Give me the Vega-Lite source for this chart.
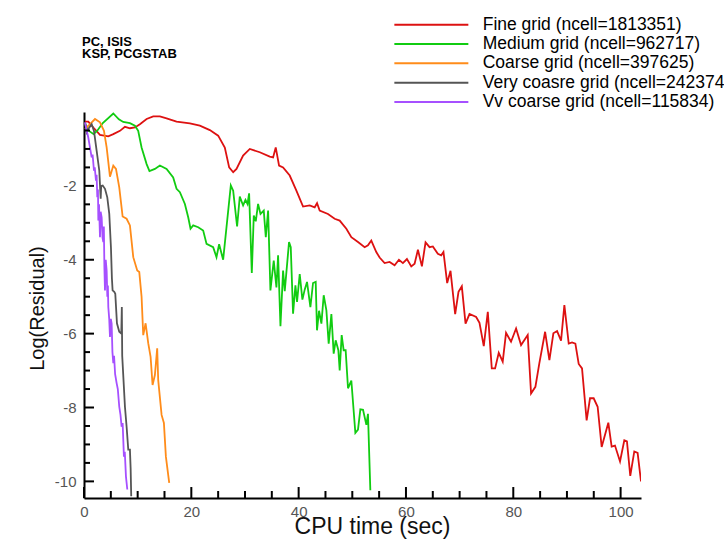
{
  "$schema": "https://vega.github.io/schema/vega-lite/v6.json",
  "width": 557,
  "height": 386,
  "autosize": "none",
  "padding": {"left": 84, "top": 112, "right": 83, "bottom": 46},
  "background": "white",
  "title": {
    "text": ["PC, ISIS", "KSP, PCGSTAB"],
    "anchor": "start",
    "frame": "group",
    "font": "Liberation Sans",
    "fontSize": 13,
    "fontWeight": "bold",
    "lineHeight": 12,
    "color": "#000",
    "offset": -45,
    "dx": -2
  },
  "config": {
    "view": {"stroke": null},
    "axis": {
      "grid": false,
      "zindex": 1,
      "domainColor": "#000",
      "domainWidth": 2,
      "tickColor": "#000",
      "tickWidth": 2,
      "labelFont": "Liberation Sans",
      "labelFontSize": 15,
      "labelColor": "#555",
      "labelFlush": false,
      "labelOverlap": false,
      "titleFont": "Liberation Sans",
      "titleFontWeight": "normal",
      "titleColor": "#111"
    }
  },
  "datasets": {
    "xmajor": [{"v": 0}, {"v": 20}, {"v": 40}, {"v": 60}, {"v": 80}, {"v": 100}],
    "xminor": [{"v": 5}, {"v": 10}, {"v": 15}, {"v": 25}, {"v": 30}, {"v": 35}, {"v": 45}, {"v": 50}, {"v": 55}, {"v": 65}, {"v": 70}, {"v": 75}, {"v": 85}, {"v": 90}, {"v": 95}],
    "ymajor": [{"v": -10}, {"v": -8}, {"v": -6}, {"v": -4}, {"v": -2}],
    "yminor": [{"v": -9.5}, {"v": -9}, {"v": -8.5}, {"v": -7.5}, {"v": -7}, {"v": -6.5}, {"v": -5.5}, {"v": -5}, {"v": -4.5}, {"v": -3.5}, {"v": -3}, {"v": -2.5}, {"v": -1.5}, {"v": -1}, {"v": -0.5}]
  },
  "data": {
    "values": [
      {"s": "F", "t": 0.19, "r": -0.26}, {"s": "F", "t": 0.8, "r": -0.26}, {"s": "F", "t": 1.74, "r": -0.42}, {"s": "F", "t": 2.98, "r": -0.62}, {"s": "F", "t": 4.52, "r": -0.66}, {"s": "F", "t": 5.46, "r": -0.6}, {"s": "F", "t": 6.7, "r": -0.51}, {"s": "F", "t": 7.63, "r": -0.4}, {"s": "F", "t": 8.56, "r": -0.44}, {"s": "F", "t": 9.49, "r": -0.42}, {"s": "F", "t": 10.42, "r": -0.33}, {"s": "F", "t": 11.67, "r": -0.19}, {"s": "F", "t": 12.9, "r": -0.12}, {"s": "F", "t": 14.14, "r": -0.12}, {"s": "F", "t": 15.39, "r": -0.17}, {"s": "F", "t": 17.25, "r": -0.26}, {"s": "F", "t": 19.73, "r": -0.31}, {"s": "F", "t": 21.59, "r": -0.37}, {"s": "F", "t": 23.45, "r": -0.49}, {"s": "F", "t": 25.0, "r": -0.64}, {"s": "F", "t": 26.24, "r": -0.96}, {"s": "F", "t": 27.05, "r": -1.5}, {"s": "F", "t": 27.8, "r": -1.63}, {"s": "F", "t": 28.42, "r": -1.54}, {"s": "F", "t": 29.65, "r": -1.18}, {"s": "F", "t": 30.9, "r": -1.0}, {"s": "F", "t": 32.76, "r": -1.09}, {"s": "F", "t": 34.62, "r": -1.21}, {"s": "F", "t": 35.24, "r": -1.23}, {"s": "F", "t": 35.73, "r": -0.96}, {"s": "F", "t": 36.35, "r": -1.45}, {"s": "F", "t": 37.1, "r": -1.5}, {"s": "F", "t": 38.34, "r": -1.72}, {"s": "F", "t": 39.58, "r": -2.13}, {"s": "F", "t": 40.82, "r": -2.56}, {"s": "F", "t": 42.06, "r": -2.53}, {"s": "F", "t": 42.99, "r": -2.58}, {"s": "F", "t": 43.43, "r": -2.47}, {"s": "F", "t": 43.92, "r": -2.67}, {"s": "F", "t": 45.47, "r": -2.76}, {"s": "F", "t": 46.71, "r": -2.89}, {"s": "F", "t": 47.65, "r": -2.94}, {"s": "F", "t": 48.89, "r": -3.16}, {"s": "F", "t": 49.82, "r": -3.39}, {"s": "F", "t": 51.06, "r": -3.52}, {"s": "F", "t": 52.3, "r": -3.66}, {"s": "F", "t": 52.92, "r": -3.61}, {"s": "F", "t": 53.54, "r": -3.48}, {"s": "F", "t": 54.47, "r": -3.79}, {"s": "F", "t": 55.09, "r": -3.94}, {"s": "F", "t": 56.02, "r": -4.09}, {"s": "F", "t": 56.95, "r": -4.06}, {"s": "F", "t": 57.88, "r": -4.15}, {"s": "F", "t": 58.69, "r": -4.0}, {"s": "F", "t": 59.43, "r": -4.09}, {"s": "F", "t": 60.18, "r": -3.98}, {"s": "F", "t": 60.99, "r": -4.18}, {"s": "F", "t": 61.61, "r": -4.11}, {"s": "F", "t": 62.23, "r": -3.73}, {"s": "F", "t": 62.97, "r": -4.18}, {"s": "F", "t": 63.65, "r": -3.53}, {"s": "F", "t": 64.4, "r": -3.66}, {"s": "F", "t": 65.01, "r": -3.64}, {"s": "F", "t": 65.94, "r": -3.84}, {"s": "F", "t": 66.57, "r": -3.88}, {"s": "F", "t": 66.99, "r": -3.79}, {"s": "F", "t": 67.68, "r": -4.63}, {"s": "F", "t": 68.3, "r": -4.3}, {"s": "F", "t": 69.17, "r": -5.47}, {"s": "F", "t": 69.79, "r": -4.87}, {"s": "F", "t": 70.41, "r": -4.72}, {"s": "F", "t": 71.1, "r": -5.73}, {"s": "F", "t": 71.84, "r": -5.47}, {"s": "F", "t": 73.08, "r": -5.55}, {"s": "F", "t": 73.7, "r": -5.71}, {"s": "F", "t": 74.5, "r": -6.34}, {"s": "F", "t": 75.25, "r": -5.41}, {"s": "F", "t": 75.99, "r": -6.94}, {"s": "F", "t": 76.61, "r": -6.94}, {"s": "F", "t": 77.29, "r": -6.52}, {"s": "F", "t": 78.03, "r": -6.76}, {"s": "F", "t": 78.65, "r": -5.98}, {"s": "F", "t": 79.58, "r": -6.22}, {"s": "F", "t": 80.52, "r": -5.86}, {"s": "F", "t": 81.45, "r": -6.31}, {"s": "F", "t": 82.69, "r": -6.04}, {"s": "F", "t": 83.31, "r": -7.62}, {"s": "F", "t": 84.12, "r": -7.44}, {"s": "F", "t": 84.86, "r": -6.8}, {"s": "F", "t": 85.93, "r": -5.95}, {"s": "F", "t": 86.73, "r": -6.72}, {"s": "F", "t": 87.47, "r": -5.99}, {"s": "F", "t": 88.16, "r": -5.93}, {"s": "F", "t": 88.9, "r": -6.19}, {"s": "F", "t": 89.52, "r": -5.23}, {"s": "F", "t": 90.33, "r": -6.27}, {"s": "F", "t": 90.95, "r": -6.24}, {"s": "F", "t": 91.57, "r": -6.27}, {"s": "F", "t": 92.19, "r": -6.82}, {"s": "F", "t": 92.81, "r": -6.94}, {"s": "F", "t": 93.67, "r": -8.35}, {"s": "F", "t": 94.3, "r": -7.75}, {"s": "F", "t": 94.98, "r": -7.75}, {"s": "F", "t": 95.72, "r": -7.98}, {"s": "F", "t": 96.47, "r": -9.07}, {"s": "F", "t": 97.71, "r": -8.41}, {"s": "F", "t": 98.33, "r": -9.06}, {"s": "F", "t": 98.95, "r": -9.03}, {"s": "F", "t": 99.89, "r": -9.46}, {"s": "F", "t": 100.69, "r": -8.89}, {"s": "F", "t": 101.18, "r": -8.92}, {"s": "F", "t": 101.8, "r": -9.85}, {"s": "F", "t": 102.55, "r": -9.19}, {"s": "F", "t": 103.17, "r": -9.23}, {"s": "F", "t": 103.8, "r": -10.0},

      {"s": "M", "t": 0.2, "r": -0.3}, {"s": "M", "t": 0.8, "r": -0.5}, {"s": "M", "t": 1.8, "r": -0.6}, {"s": "M", "t": 2.5, "r": -0.5}, {"s": "M", "t": 3.5, "r": -0.3}, {"s": "M", "t": 5.46, "r": -0.04}, {"s": "M", "t": 6.5, "r": -0.2}, {"s": "M", "t": 7.31, "r": -0.27}, {"s": "M", "t": 8.56, "r": -0.3}, {"s": "M", "t": 9.49, "r": -0.37}, {"s": "M", "t": 10.1, "r": -0.51}, {"s": "M", "t": 10.73, "r": -0.96}, {"s": "M", "t": 11.67, "r": -1.41}, {"s": "M", "t": 12.2, "r": -1.6}, {"s": "M", "t": 13.21, "r": -1.54}, {"s": "M", "t": 14.14, "r": -1.45}, {"s": "M", "t": 15.39, "r": -1.54}, {"s": "M", "t": 16.62, "r": -1.77}, {"s": "M", "t": 17.25, "r": -2.08}, {"s": "M", "t": 17.87, "r": -2.17}, {"s": "M", "t": 18.8, "r": -2.49}, {"s": "M", "t": 19.42, "r": -2.85}, {"s": "M", "t": 19.85, "r": -3.16}, {"s": "M", "t": 20.35, "r": -3.07}, {"s": "M", "t": 21.28, "r": -3.12}, {"s": "M", "t": 22.21, "r": -3.21}, {"s": "M", "t": 22.84, "r": -3.57}, {"s": "M", "t": 24.07, "r": -3.66}, {"s": "M", "t": 24.69, "r": -3.93}, {"s": "M", "t": 25.18, "r": -3.58}, {"s": "M", "t": 25.93, "r": -4.0}, {"s": "M", "t": 27.36, "r": -1.99}, {"s": "M", "t": 27.8, "r": -2.13}, {"s": "M", "t": 28.53, "r": -3.1}, {"s": "M", "t": 29.03, "r": -2.29}, {"s": "M", "t": 29.65, "r": -2.53}, {"s": "M", "t": 30.09, "r": -2.38}, {"s": "M", "t": 30.47, "r": -2.49}, {"s": "M", "t": 30.77, "r": -2.2}, {"s": "M", "t": 31.27, "r": -4.36}, {"s": "M", "t": 31.64, "r": -2.8}, {"s": "M", "t": 32.01, "r": -2.96}, {"s": "M", "t": 32.44, "r": -2.49}, {"s": "M", "t": 32.89, "r": -2.76}, {"s": "M", "t": 33.5, "r": -2.67}, {"s": "M", "t": 33.88, "r": -3.39}, {"s": "M", "t": 34.31, "r": -2.67}, {"s": "M", "t": 34.74, "r": -4.83}, {"s": "M", "t": 35.36, "r": -4.02}, {"s": "M", "t": 35.86, "r": -4.75}, {"s": "M", "t": 36.17, "r": -3.88}, {"s": "M", "t": 36.61, "r": -5.8}, {"s": "M", "t": 37.1, "r": -4.29}, {"s": "M", "t": 37.41, "r": -4.85}, {"s": "M", "t": 38.21, "r": -3.52}, {"s": "M", "t": 38.53, "r": -3.66}, {"s": "M", "t": 38.96, "r": -5.46}, {"s": "M", "t": 39.4, "r": -4.69}, {"s": "M", "t": 39.7, "r": -5.14}, {"s": "M", "t": 40.2, "r": -4.39}, {"s": "M", "t": 40.7, "r": -5.08}, {"s": "M", "t": 41.13, "r": -4.81}, {"s": "M", "t": 41.56, "r": -4.6}, {"s": "M", "t": 42.19, "r": -5.28}, {"s": "M", "t": 42.68, "r": -4.63}, {"s": "M", "t": 43.18, "r": -4.6}, {"s": "M", "t": 43.42, "r": -5.91}, {"s": "M", "t": 43.8, "r": -5.38}, {"s": "M", "t": 44.24, "r": -5.73}, {"s": "M", "t": 44.67, "r": -4.96}, {"s": "M", "t": 45.17, "r": -5.37}, {"s": "M", "t": 45.6, "r": -6.27}, {"s": "M", "t": 46.1, "r": -5.47}, {"s": "M", "t": 46.53, "r": -6.54}, {"s": "M", "t": 46.9, "r": -6.18}, {"s": "M", "t": 47.4, "r": -6.45}, {"s": "M", "t": 47.65, "r": -7.0}, {"s": "M", "t": 48.02, "r": -6.04}, {"s": "M", "t": 48.39, "r": -6.45}, {"s": "M", "t": 48.76, "r": -6.45}, {"s": "M", "t": 49.2, "r": -7.48}, {"s": "M", "t": 49.82, "r": -7.27}, {"s": "M", "t": 50.57, "r": -8.69}, {"s": "M", "t": 51.06, "r": -8.6}, {"s": "M", "t": 51.5, "r": -8.05}, {"s": "M", "t": 52.0, "r": -8.06}, {"s": "M", "t": 52.62, "r": -8.47}, {"s": "M", "t": 52.92, "r": -8.17}, {"s": "M", "t": 53.36, "r": -10.24},

      {"s": "C", "t": 0.19, "r": -0.46}, {"s": "C", "t": 1.12, "r": -0.33}, {"s": "C", "t": 2.05, "r": -0.19}, {"s": "C", "t": 2.98, "r": -0.28}, {"s": "C", "t": 3.72, "r": -0.51}, {"s": "C", "t": 4.22, "r": -0.96}, {"s": "C", "t": 4.84, "r": -1.75}, {"s": "C", "t": 5.46, "r": -1.45}, {"s": "C", "t": 5.96, "r": -1.54}, {"s": "C", "t": 6.57, "r": -2.04}, {"s": "C", "t": 7.2, "r": -2.83}, {"s": "C", "t": 7.94, "r": -2.89}, {"s": "C", "t": 8.56, "r": -3.07}, {"s": "C", "t": 9.18, "r": -3.93}, {"s": "C", "t": 9.92, "r": -4.29}, {"s": "C", "t": 10.3, "r": -4.33}, {"s": "C", "t": 10.73, "r": -5.0}, {"s": "C", "t": 11.04, "r": -6.04}, {"s": "C", "t": 11.48, "r": -5.72}, {"s": "C", "t": 11.97, "r": -6.26}, {"s": "C", "t": 12.41, "r": -6.63}, {"s": "C", "t": 12.78, "r": -7.39}, {"s": "C", "t": 13.21, "r": -7.12}, {"s": "C", "t": 13.64, "r": -6.4}, {"s": "C", "t": 13.83, "r": -7.26}, {"s": "C", "t": 14.46, "r": -8.2}, {"s": "C", "t": 14.89, "r": -8.42}, {"s": "C", "t": 15.26, "r": -9.33}, {"s": "C", "t": 15.88, "r": -10.04},

      {"s": "V", "t": 0.19, "r": -0.28}, {"s": "V", "t": 0.5, "r": -0.55}, {"s": "V", "t": 0.8, "r": -0.46}, {"s": "V", "t": 1.43, "r": -0.33}, {"s": "V", "t": 1.86, "r": -0.51}, {"s": "V", "t": 2.36, "r": -1.05}, {"s": "V", "t": 2.85, "r": -1.59}, {"s": "V", "t": 3.11, "r": -2.35}, {"s": "V", "t": 3.2, "r": -2.0}, {"s": "V", "t": 3.48, "r": -1.99}, {"s": "V", "t": 3.91, "r": -2.08}, {"s": "V", "t": 4.34, "r": -2.31}, {"s": "V", "t": 4.71, "r": -2.76}, {"s": "V", "t": 5.02, "r": -3.66}, {"s": "V", "t": 5.2, "r": -4.5}, {"s": "V", "t": 5.33, "r": -4.83}, {"s": "V", "t": 5.64, "r": -4.87}, {"s": "V", "t": 5.83, "r": -4.92}, {"s": "V", "t": 6.14, "r": -5.72}, {"s": "V", "t": 6.57, "r": -5.95}, {"s": "V", "t": 6.95, "r": -6.0}, {"s": "V", "t": 7.05, "r": -5.28}, {"s": "V", "t": 7.12, "r": -6.6}, {"s": "V", "t": 7.63, "r": -7.98}, {"s": "V", "t": 7.94, "r": -8.52}, {"s": "V", "t": 8.25, "r": -9.14}, {"s": "V", "t": 8.56, "r": -9.14}, {"s": "V", "t": 8.69, "r": -9.64}, {"s": "V", "t": 8.8, "r": -10.4},

      {"s": "W", "t": 0.19, "r": -0.28}, {"s": "W", "t": 0.5, "r": -0.5}, {"s": "W", "t": 0.8, "r": -0.69}, {"s": "W", "t": 1.1, "r": -0.95}, {"s": "W", "t": 1.43, "r": -1.23}, {"s": "W", "t": 1.6, "r": -1.15}, {"s": "W", "t": 1.86, "r": -1.59}, {"s": "W", "t": 2.0, "r": -1.5}, {"s": "W", "t": 2.23, "r": -1.86}, {"s": "W", "t": 2.35, "r": -1.7}, {"s": "W", "t": 2.48, "r": -2.31}, {"s": "W", "t": 2.6, "r": -2.1}, {"s": "W", "t": 2.67, "r": -2.94}, {"s": "W", "t": 2.8, "r": -2.5}, {"s": "W", "t": 2.98, "r": -3.39}, {"s": "W", "t": 3.1, "r": -2.7}, {"s": "W", "t": 3.29, "r": -2.85}, {"s": "W", "t": 3.45, "r": -3.4}, {"s": "W", "t": 3.6, "r": -3.52}, {"s": "W", "t": 3.7, "r": -3.1}, {"s": "W", "t": 3.8, "r": -4.2}, {"s": "W", "t": 3.91, "r": -4.83}, {"s": "W", "t": 4.05, "r": -4.0}, {"s": "W", "t": 4.22, "r": -4.29}, {"s": "W", "t": 4.35, "r": -5.0}, {"s": "W", "t": 4.45, "r": -4.7}, {"s": "W", "t": 4.53, "r": -5.28}, {"s": "W", "t": 4.7, "r": -5.6}, {"s": "W", "t": 4.84, "r": -6.09}, {"s": "W", "t": 5.0, "r": -5.6}, {"s": "W", "t": 5.15, "r": -5.73}, {"s": "W", "t": 5.3, "r": -6.5}, {"s": "W", "t": 5.46, "r": -6.8}, {"s": "W", "t": 5.6, "r": -6.6}, {"s": "W", "t": 5.8, "r": -7.1}, {"s": "W", "t": 6.08, "r": -7.34}, {"s": "W", "t": 6.3, "r": -7.5}, {"s": "W", "t": 6.57, "r": -7.98}, {"s": "W", "t": 6.8, "r": -8.2}, {"s": "W", "t": 7.01, "r": -8.52}, {"s": "W", "t": 7.2, "r": -8.42}, {"s": "W", "t": 7.44, "r": -9.33}, {"s": "W", "t": 7.6, "r": -9.2}, {"s": "W", "t": 7.82, "r": -9.87}, {"s": "W", "t": 8.07, "r": -10.22}
    ]
  },
  "layer": [
    {
      "mark": {"type": "line", "strokeWidth": 1.8, "clip": true},
      "encoding": {
        "x": {
          "field": "t",
          "type": "quantitative",
          "scale": {"domain": [0, 103.8], "nice": false, "zero": false},
          "axis": {
            "title": "CPU time (sec)",
            "titleFontSize": 23,
            "values": [0, 20, 40, 60, 80, 100],
            "ticks": false,
            "labelPadding": 6,
            "labelExpr": "'' + datum.value",
            "titleAlign": "center",
            "titleX": 288,
            "titleY": 35,
            "titleBaseline": "alphabetic"
          }
        },
        "y": {
          "field": "r",
          "type": "quantitative",
          "scale": {"domain": [-10.45, 0], "nice": false, "zero": false},
          "axis": {
            "title": "Log(Residual)",
            "titleFontSize": 20,
            "values": [-10, -8, -6, -4, -2],
            "ticks": false,
            "labelPadding": 8,
            "labelExpr": "'' + datum.value",
            "titleAngle": -90,
            "titleAlign": "center",
            "titleBaseline": "middle",
            "titleX": -47,
            "titleY": 196
          }
        },
        "color": {
          "field": "s",
          "type": "nominal",
          "scale": {
            "domain": ["F", "M", "C", "V", "W"],
            "range": ["#dd1111", "#11cc11", "#ff8c1a", "#555555", "#a650ff"]
          },
          "legend": {
            "title": null,
            "orient": "none",
            "legendX": 338.6,
            "legendY": -96,
            "padding": 0,
            "symbolType": "M-5,0L5,0",
            "symbolSize": 219,
            "symbolStrokeWidth": 2,
            "labelFont": "Liberation Sans",
            "labelFontSize": 17.5,
            "labelColor": "#000",
            "labelOffset": 42.6,
            "labelLimit": 500,
            "rowPadding": 0.3,
            "labelExpr": "{'F': 'Fine grid (ncell=1813351)', 'M': 'Medium grid (ncell=962717)', 'C': 'Coarse grid (ncell=397625)', 'V': 'Very coasre grid (ncell=242374)', 'W': 'Vv coarse grid (ncell=115834)'}[datum.label]"
          }
        }
      }
    },
    {
      "data": {"name": "xmajor"},
      "mark": {"type": "rule", "color": "#000", "strokeWidth": 2},
      "encoding": {
        "x": {"field": "v", "type": "quantitative", "axis": null},
        "y": {"datum": -10.45, "axis": null},
        "y2": {"datum": -10.153}
      }
    },
    {
      "data": {"name": "xminor"},
      "mark": {"type": "rule", "color": "#000", "strokeWidth": 2},
      "encoding": {
        "x": {"field": "v", "type": "quantitative", "axis": null},
        "y": {"datum": -10.45, "axis": null},
        "y2": {"datum": -10.26}
      }
    },
    {
      "data": {"name": "ymajor"},
      "mark": {"type": "rule", "color": "#000", "strokeWidth": 2},
      "encoding": {
        "y": {"field": "v", "type": "quantitative", "axis": null},
        "x": {"datum": 0, "axis": null},
        "x2": {"datum": 1.86}
      }
    },
    {
      "data": {"name": "yminor"},
      "mark": {"type": "rule", "color": "#000", "strokeWidth": 2},
      "encoding": {
        "y": {"field": "v", "type": "quantitative", "axis": null},
        "x": {"datum": 0, "axis": null},
        "x2": {"datum": 1.12}
      }
    }
  ],
  "resolve": {"axis": {"x": "independent", "y": "independent"}}
}
